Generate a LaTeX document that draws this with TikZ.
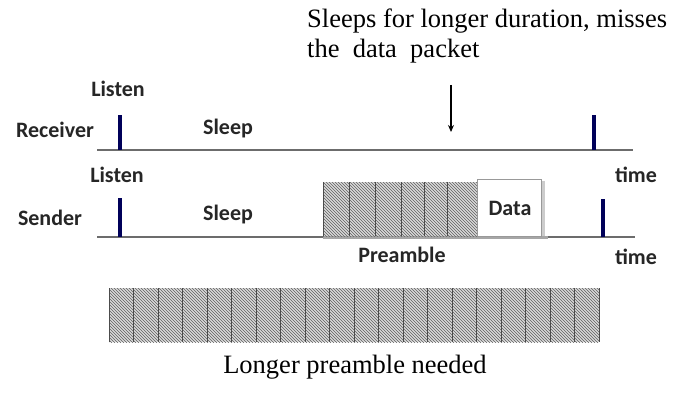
\documentclass[tikz,border=0pt]{standalone}
\usepackage{fontspec}
\setmainfont{Liberation Serif}
\newfontfamily\labfont{Carlito}
\usetikzlibrary{patterns,arrows.meta}
\begin{document}
\begin{tikzpicture}[x=1pt,y=-1pt,
  lbl/.style={font=\labfont\bfseries\fontsize{22}{25}\selectfont, text=black!85, inner sep=0, anchor=base},
  serif/.style={font=\fontsize{26.5}{30}\selectfont, inner sep=0},
  axis/.style={draw=gray!85!black, line width=1.6pt},
  bar/.style={fill=blue!35!black},
  hatch/.style={fill=gray!30, postaction={pattern=north west lines, pattern color=gray!75!black}},
  div/.style={draw=gray!60!black, line width=0.9pt}]
\useasboundingbox[fill=white] (0,0) rectangle (674,393);

% top annotation
\node[serif, anchor=base west] (note1) at (307,28) {Sleeps for longer duration, misses};
\node[serif, anchor=base west] (note2) at (307,58) {the\ \ data\ \ packet};
\coordinate (arrS) at (451,85);
\coordinate (arrE) at (451,132);
\draw[line width=1.1pt, -{Stealth[length=7pt,width=6pt]}] (arrS) -- (arrE);

% receiver
\draw[axis] (97,150) -- (633,150);
\fill[bar] (118,115) rectangle (122,150);
\fill[bar] (592,115) rectangle (596,150);
\node[lbl] (listen1) at (118,97) {Listen};
\node[lbl] (recv) at (55,138) {Receiver};
\node[lbl] (sleep1) at (228,134) {Sleep};
\node[lbl] (time1) at (636,182) {time};

% sender
\draw[axis] (97,237) -- (635,237);
\draw[draw=gray!70, line width=3pt] (323,237) -- (548,237);
\fill[bar] (118,198) rectangle (122,237);
\fill[bar] (601,199) rectangle (605,237);
\node[lbl] (listen2) at (117,182) {Listen};
\node[lbl] (send) at (50,225) {Sender};
\node[lbl] (sleep2) at (228,220) {Sleep};
\node[lbl] (time2) at (636,264) {time};

% short preamble
\path[hatch] (323,182) rectangle (477,236);
\foreach \x in {323,349,375,401,424,447,477} \draw[div] (\x,182) -- (\x,236);
\node[lbl] (pre) at (402,262) {Preamble};

% data box
\fill[gray!40] (541,181) rectangle (545,236);
\draw[draw=gray!80, fill=white, line width=0.8pt] (477,179) rectangle (541,236);
\node[lbl] (data) at (510,215) {Data};

% long preamble
\path[hatch] (109,288) rectangle (599,342);
\foreach \i in {0,...,20} \draw[div] ({109+\i*24.5},288) -- ({109+\i*24.5},342);
\node[serif, anchor=base] (longer) at (355,373) {Longer preamble needed};
\end{tikzpicture}
\end{document}
